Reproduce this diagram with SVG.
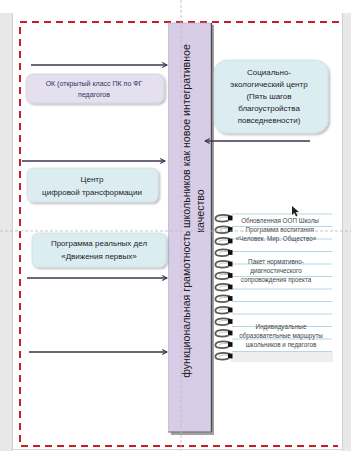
<svg xmlns="http://www.w3.org/2000/svg" width="351" height="451" viewBox="0 0 351 451">
<style>
.page{fill:#ffffff}
.frame{fill:#e8e8e8}
.border{fill:none;stroke:#c81e28;stroke-width:2;stroke-dasharray:7 5}
.guide{fill:none;stroke:#b9b9b9;stroke-width:0.8;stroke-dasharray:3 2}
.arrow{fill:none;stroke:#3d3350;stroke-width:1.6;marker-end:url(#ah)}
.lav{fill:#e5e0ee;stroke:#cfc8dc;stroke-width:0.6}
.blue{fill:#dcedf2;stroke:#c3dbe3;stroke-width:0.6}
.t{font-family:"Liberation Sans",Arial,sans-serif;text-anchor:middle}
.tA{font-size:7px;fill:#2e3568}
.tB{font-size:8px;fill:#222222}
.tN{font-size:6.3px;fill:#444444}
.bar{fill:#d7cde6;stroke:#b4a9c8;stroke-width:0.6}
.pl{stroke:#a9d2e6;stroke-width:0.9}
</style>
<defs>
<marker id="ah" viewBox="0 0 10 10" refX="9" refY="5" markerWidth="6" markerHeight="6" orient="auto" markerUnits="userSpaceOnUse">
<path d="M1 1 L9 5 L1 9" fill="none" stroke="#3d3350" stroke-width="1.8"/>
</marker>
<filter id="sh" x="-10%" y="-10%" width="125%" height="135%">
<feDropShadow dx="1.5" dy="1.5" stdDeviation="1" flood-color="#000" flood-opacity="0.3"/>
</filter>
<g id="ring">
<path d="M230 -2.2 C221 -4.2 214.5 -2.5 215.5 1.2 C216.5 4 223 4 228.5 2.6" fill="none" stroke="#5a5a5a" stroke-width="1.8"/>
<path d="M229 -0.6 C223 -1.6 219 -0.6 219.5 0.8" fill="none" stroke="#b0b0b0" stroke-width="0.8"/>
<rect x="228" y="-2.4" width="4.5" height="4.8" fill="#111"/>
</g>
</defs>

<rect class="page" x="0" y="0" width="351" height="451"/>
<rect class="frame" x="0" y="13" width="12" height="438"/>
<line x1="12.5" y1="13" x2="12.5" y2="451" stroke="#cfcfcf" stroke-width="1"/>
<rect class="frame" x="343" y="13" width="8" height="438"/>
<line x1="342.5" y1="13" x2="342.5" y2="451" stroke="#cfcfcf" stroke-width="1"/>
<line x1="12" y1="449.5" x2="343" y2="449.5" stroke="#d8d8d8" stroke-width="1"/>

<path class="border" d="M339 22 L20 22 L20 446 L338 446"/>

<g id="bar">
<rect x="171" y="25" width="43" height="410" fill="#555" opacity="0.55"/>
<rect class="bar" x="168.5" y="23" width="43" height="409"/>
<line x1="211.5" y1="23" x2="211.5" y2="432" stroke="#4a4a4a" stroke-width="1.4"/>
<line x1="168.5" y1="432" x2="212" y2="432" stroke="#6a6a6a" stroke-width="1"/>
<g transform="translate(190,211) rotate(-90)">
<text class="t" x="0" y="0" font-size="10.6" fill="#1a1a1a">функциональная грамотность школьников  как новое интегративное</text>
<text class="t" x="0" y="14" font-size="10.6" fill="#1a1a1a">качество</text>
</g>
</g>

<g id="boxA">
<rect class="lav" x="26" y="74" width="138" height="29" rx="7" filter="url(#sh)"/>
<text class="t tA" x="94" y="86">ОК (открытый класс ПК по ФГ</text>
<text class="t tA" x="94" y="97">педагогов</text>
</g>

<g id="boxB">
<rect class="blue" x="214" y="60" width="114" height="73" rx="13" filter="url(#sh)"/>
<text class="t tB" x="269" y="75">Социально-</text>
<text class="t tB" x="269" y="87">экологический центр</text>
<text class="t tB" x="269" y="99">(Пять шагов</text>
<text class="t tB" x="269" y="111">благоустройства</text>
<text class="t tB" x="269" y="123">повседневности)</text>
</g>

<g id="boxC">
<rect class="blue" x="27" y="168" width="131" height="34" rx="6" filter="url(#sh)"/>
<text class="t tB" x="92" y="182">Центр</text>
<text class="t tB" x="92" y="195">цифровой трансформации</text>
</g>

<g id="boxD">
<rect class="blue" x="32" y="233" width="134" height="34" rx="6" filter="url(#sh)"/>
<text class="t tB" x="99" y="246">Программа реальных дел</text>
<text class="t tB" x="99" y="259">«Движения первых»</text>
</g>

<g id="notebook">
<rect x="231" y="212" width="102" height="150" fill="#ffffff"/>
<rect x="231" y="352" width="102" height="10" fill="#eeeeee"/>
<g class="pl">
<line x1="232" y1="214" x2="332" y2="214"/>
<line x1="232" y1="226.5" x2="332" y2="226.5"/>
<line x1="232" y1="239" x2="332" y2="239"/>
<line x1="232" y1="251.5" x2="332" y2="251.5"/>
<line x1="232" y1="264" x2="332" y2="264"/>
<line x1="232" y1="276.5" x2="332" y2="276.5"/>
<line x1="232" y1="289" x2="332" y2="289"/>
<line x1="232" y1="301.5" x2="332" y2="301.5"/>
<line x1="232" y1="314" x2="332" y2="314"/>
<line x1="232" y1="326.5" x2="332" y2="326.5"/>
<line x1="232" y1="339" x2="332" y2="339"/>
<line x1="232" y1="351.5" x2="332" y2="351.5"/>
</g>
<use href="#ring" y="218"/>
<use href="#ring" y="229.5"/>
<use href="#ring" y="241"/>
<use href="#ring" y="252.5"/>
<use href="#ring" y="264"/>
<use href="#ring" y="275.5"/>
<use href="#ring" y="287"/>
<use href="#ring" y="298.5"/>
<use href="#ring" y="310"/>
<use href="#ring" y="321.5"/>
<use href="#ring" y="333"/>
<use href="#ring" y="344.5"/>
<use href="#ring" y="356"/>
<text class="t tN" x="280" y="223">Обновленная ООП Школы</text>
<text class="t tN" x="278" y="232">. Программа воспитания</text>
<text class="t tN" x="276" y="241">«Человек. Мир. Общество»</text>
<text class="t tN" x="276" y="264">Пакет нормативно-</text>
<text class="t tN" x="276" y="273">диагностического</text>
<text class="t tN" x="276" y="282">сопровождения проекта</text>
<text class="t tN" x="281" y="329">Индивидуальные</text>
<text class="t tN" x="281" y="338">образовательные маршруты</text>
<text class="t tN" x="281" y="347">школьников и педагогов</text>
</g>

<g id="connectors">
<line class="arrow" x1="31" y1="65" x2="167" y2="65"/>
<line class="arrow" x1="22" y1="161" x2="165" y2="161"/>
<line class="arrow" x1="27" y1="278" x2="167" y2="278"/>
<line class="arrow" x1="29" y1="352" x2="167" y2="352"/>
<line class="arrow" x1="310" y1="141" x2="205" y2="141"/>
</g>

<path d="M292 206 L292 215 L294.3 212.8 L296 216.5 L297.5 215.8 L295.8 212.2 L299 212 Z" fill="#222"/>

<line class="guide" x1="0" y1="231" x2="351" y2="231"/>
<line class="guide" x1="181" y1="0" x2="181" y2="451"/>
</svg>
